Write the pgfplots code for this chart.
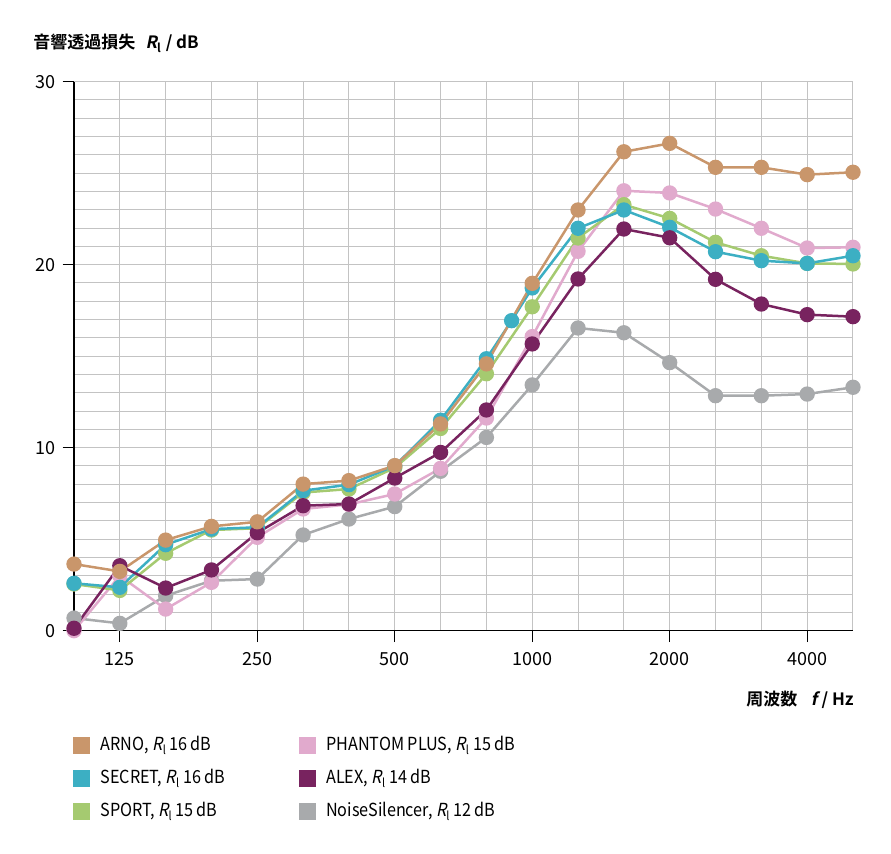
\documentclass[border=0pt]{standalone}
\usepackage{fontspec}
\setmainfont{Noto Sans CJK JP}[BoldFont={Noto Sans CJK JP Bold}, ItalicFont={Noto Sans CJK JP}, ItalicFeatures={FakeSlant=0.2}, BoldItalicFont={Noto Sans CJK JP Bold}, BoldItalicFeatures={FakeSlant=0.2}]
\newfontfamily\legfont{Noto Sans CJK JP}[FakeStretch=0.9, ItalicFont={Noto Sans CJK JP}, ItalicFeatures={FakeSlant=0.2}]
\usepackage{pgfplots}
\usepackage{pgfplotstable}
\pgfplotsset{compat=1.18}
\definecolor{arno}{RGB}{201,150,107}
\definecolor{secret}{RGB}{60,175,195}
\definecolor{sport}{RGB}{165,202,112}
\definecolor{phantom}{RGB}{225,170,205}
\definecolor{alex}{RGB}{120,35,95}
\definecolor{noise}{RGB}{168,170,172}
\definecolor{gridc}{RGB}{195,195,195}

% x = third-octave index: 0=100 Hz, 1=125, ..., 17=5000 Hz
\pgfplotstableread{
x y
0 3.64
1 3.24
2 4.95
3 5.70
4 5.95
5 8.01
6 8.20
7 9.02
8 11.30
9 14.58
10 18.98
11 22.99
12 26.17
13 26.63
14 25.32
15 25.32
16 24.92
17 25.05
}\arnotab
\pgfplotstableread{
x y
0 2.59
1 2.37
2 4.70
3 5.55
4 5.65
5 7.65
6 7.98
7 9.00
8 11.50
9 14.86
9.55 16.94
10 18.73
11 21.99
12 22.99
13 22.04
14 20.71
15 20.22
16 20.07
17 20.49
}\secrettab
\pgfplotstableread{
x y
0 2.55
1 2.20
2 4.23
3 5.50
4 5.60
5 7.55
6 7.74
7 8.90
8 11.05
9 14.04
10 17.70
11 21.46
12 23.28
13 22.53
14 21.22
15 20.49
16 20.07
17 20.04
}\sporttab
\pgfplotstableread{
x y
0 0.00
1 3.00
2 1.18
3 2.64
4 5.10
5 6.65
6 6.90
7 7.47
8 8.87
9 11.62
10 16.07
11 20.73
12 24.04
13 23.92
14 23.04
15 21.99
16 20.91
17 20.95
}\phantomtab
\pgfplotstableread{
x y
0 0.13
1 3.55
2 2.33
3 3.32
4 5.35
5 6.83
6 6.92
7 8.34
8 9.74
9 12.06
10 15.67
11 19.22
12 21.95
13 21.47
14 19.20
15 17.85
16 17.27
17 17.16
}\alextab
\pgfplotstableread{
x y
0 0.69
1 0.40
2 1.91
3 2.73
4 2.82
5 5.23
6 6.10
7 6.78
8 8.71
9 10.56
10 13.43
11 16.54
12 16.28
13 14.65
14 12.84
15 12.84
16 12.93
17 13.30
}\noisetab

\begin{document}
\begin{tikzpicture}
\begin{axis}[
  scale only axis,
  width=389.5pt, height=274.5pt,
  xmin=0, xmax=17, ymin=0, ymax=30,
  clip=false,
  axis lines*=left,
  axis line style={-, black, line width=0.6pt},
  xtick={1,4,7,10,13,16},
  xticklabels={125,250,500,1000,2000,4000},
  minor xtick={0,...,17},
  ytick={0,10,20,30},
  minor ytick={0,...,30},
  grid=both,
  major grid style={gridc, line width=0.5pt},
  minor grid style={gridc, line width=0.5pt},
  tick align=outside,
  major tick length=5.7pt,
  minor tick length=0pt,
  tick style={black, line width=0.6pt},
  /pgf/number format/assume math mode=true,
  ticklabel style={font=\fontsize{9}{10}\selectfont},
  xticklabel style={yshift=-1.5pt},
  every axis plot/.append style={line width=1.25pt, mark=*, mark size=3.2pt},
  legend image code/.code={\fill[#1] (0pt,-4.25pt) rectangle (8.5pt,4.25pt);},
  legend columns=2,
  legend style={at={(-0.0017,-0.192)}, anchor=north west, draw=none, fill=none,
    inner sep=0pt, row sep=7.8pt,
    font=\legfont\fontsize{9}{10}\selectfont,
    nodes={inner sep=0pt},
    /tikz/every odd column/.append style={column sep=5.2pt},
    /tikz/every even column/.append style={column sep=37pt}},
  legend cell align=left,
]
\addlegendimage{fill=arno, draw=none}
\addlegendentry{ARNO, \textit{R}\textsubscript{l}\,16\,dB}
\addlegendimage{fill=phantom, draw=none}
\addlegendentry{PHANTOM PLUS, \textit{R}\textsubscript{l}\,15\,dB}
\addlegendimage{fill=secret, draw=none}
\addlegendentry{SECRET, \textit{R}\textsubscript{l}\,16\,dB}
\addlegendimage{fill=alex, draw=none}
\addlegendentry{ALEX, \textit{R}\textsubscript{l}\,14\,dB}
\addlegendimage{fill=sport, draw=none}
\addlegendentry{SPORT, \textit{R}\textsubscript{l}\,15\,dB}
\addlegendimage{fill=noise, draw=none}
\addlegendentry{NoiseSilencer, \textit{R}\textsubscript{l}\,12\,dB}

\addplot[color=noise, forget plot] table {\noisetab};
\addplot[color=phantom, forget plot] table {\phantomtab};
\addplot[color=sport, forget plot] table {\sporttab};
\addplot[color=secret, forget plot] table {\secrettab};
\addplot[color=alex, forget plot] table {\alextab};
\addplot[color=arno, forget plot] table {\arnotab};

\node[anchor=west, inner sep=0pt, font=\fontsize{8.5}{10}\selectfont\bfseries]
  at ([xshift=-20.5pt, yshift=19.35pt] rel axis cs:0,1)
  {音響透過損失\hspace{0.6em}\textit{R}\textsubscript{l} / dB};
\node[anchor=east, inner sep=0pt, font=\fontsize{8.5}{10}\selectfont\bfseries]
  at ([xshift=0.5pt, yshift=-34.65pt] rel axis cs:1,0)
  {周波数\hspace{0.8em}\textit{f} / Hz};
\end{axis}
\path[use as bounding box] (-37pt,-111.65pt) rectangle (408.5pt,315.35pt);
\end{tikzpicture}
\end{document}
